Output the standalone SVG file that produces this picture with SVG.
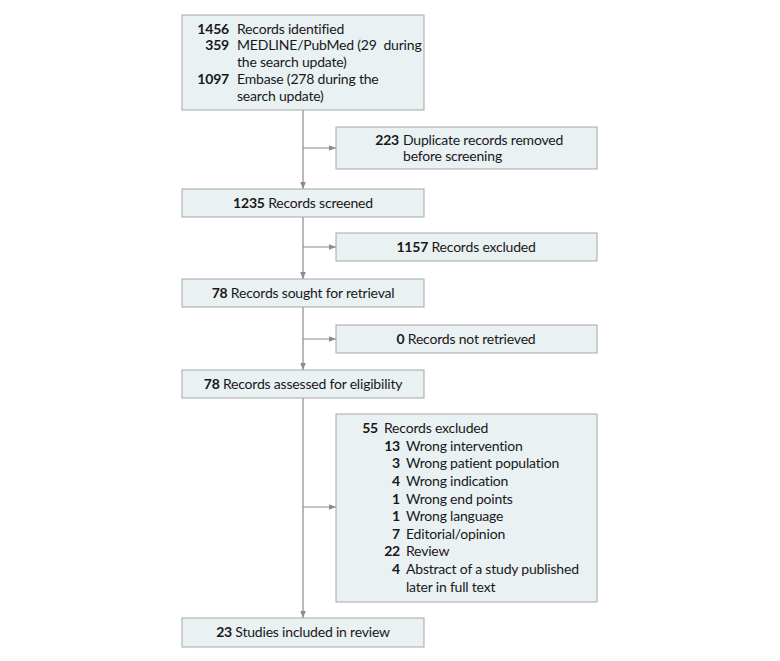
<svg xmlns="http://www.w3.org/2000/svg" width="780" height="661" viewBox="0 0 780 661">
<defs>
<style>
.box{fill:#e9f1f3;stroke:#a3a7a9;stroke-width:1}
.t{font-family:Lato,"Open Sans","Liberation Sans",sans-serif;font-size:14px;fill:#1a1718;letter-spacing:-0.2px}
.b{font-weight:bold}
.c{stroke:#8a8c8e;stroke-width:1.2;fill:none}
</style>
<marker id="ah" viewBox="0 0 10 10" refX="10" refY="5" markerWidth="7" markerHeight="7" orient="auto" markerUnits="userSpaceOnUse">
<path d="M0,1 L10,5 L0,9 z" fill="#8a8c8e"/>
</marker>
</defs>
<rect width="780" height="661" fill="#ffffff"/>
<g id="connectors">
<line class="c" x1="303" y1="110" x2="303" y2="189" marker-end="url(#ah)"/>
<line class="c" x1="303" y1="148" x2="336" y2="148" marker-end="url(#ah)"/>
<line class="c" x1="303" y1="217" x2="303" y2="279" marker-end="url(#ah)"/>
<line class="c" x1="303" y1="247" x2="336" y2="247" marker-end="url(#ah)"/>
<line class="c" x1="303" y1="307" x2="303" y2="370" marker-end="url(#ah)"/>
<line class="c" x1="303" y1="339" x2="336" y2="339" marker-end="url(#ah)"/>
<line class="c" x1="303" y1="398" x2="303" y2="618" marker-end="url(#ah)"/>
<line class="c" x1="303" y1="507" x2="336" y2="507" marker-end="url(#ah)"/>
</g>
<g id="identified">
<rect class="box" x="182" y="15" width="242" height="95"/>
<text class="t b" x="229" y="34" text-anchor="end">1456</text>
<text class="t" x="237" y="34">Records identified</text>
<text class="t b" x="229" y="50" text-anchor="end">359</text>
<text class="t" x="237" y="50">MEDLINE/PubMed (29&#160; during</text>
<text class="t" x="237" y="67">the search update)</text>
<text class="t b" x="229" y="84" text-anchor="end">1097</text>
<text class="t" x="237" y="84">Embase (278 during the</text>
<text class="t" x="237" y="101">search update)</text>
</g>
<g id="duplicates">
<rect class="box" x="336" y="127" width="261" height="42"/>
<text class="t b" x="399" y="145" text-anchor="end">223</text>
<text class="t" x="403" y="145">Duplicate records removed</text>
<text class="t" x="403" y="161">before screening</text>
</g>
<g id="screened">
<rect class="box" x="182" y="189" width="242" height="28"/>
<text class="t" x="303" y="208" text-anchor="middle"><tspan class="b">1235</tspan>  Records screened</text>
</g>
<g id="excluded1">
<rect class="box" x="336" y="233" width="261" height="28"/>
<text class="t" x="466" y="252" text-anchor="middle"><tspan class="b">1157</tspan> Records excluded</text>
</g>
<g id="sought">
<rect class="box" x="182" y="279" width="242" height="28"/>
<text class="t" x="303" y="298" text-anchor="middle"><tspan class="b">78</tspan> Records sought for retrieval</text>
</g>
<g id="notretrieved">
<rect class="box" x="336" y="325" width="261" height="28"/>
<text class="t" x="466" y="344" text-anchor="middle"><tspan class="b">0</tspan> Records not retrieved</text>
</g>
<g id="assessed">
<rect class="box" x="182" y="370" width="242" height="28"/>
<text class="t" x="303" y="389" text-anchor="middle"><tspan class="b">78</tspan> Records assessed for eligibility</text>
</g>
<g id="excluded2">
<rect class="box" x="336" y="414" width="261" height="188"/>
<text class="t b" x="378" y="433" text-anchor="end">55</text>
<text class="t" x="384" y="433">Records excluded</text>
<text class="t b" x="400" y="451" text-anchor="end">13</text>
<text class="t" x="406" y="451">Wrong intervention</text>
<text class="t b" x="400" y="468" text-anchor="end">3</text>
<text class="t" x="406" y="468">Wrong patient population</text>
<text class="t b" x="400" y="486" text-anchor="end">4</text>
<text class="t" x="406" y="486">Wrong indication</text>
<text class="t b" x="400" y="504" text-anchor="end">1</text>
<text class="t" x="406" y="504">Wrong end points</text>
<text class="t b" x="400" y="521" text-anchor="end">1</text>
<text class="t" x="406" y="521">Wrong language</text>
<text class="t b" x="400" y="539" text-anchor="end">7</text>
<text class="t" x="406" y="539">Editorial/opinion</text>
<text class="t b" x="400" y="556" text-anchor="end">22</text>
<text class="t" x="406" y="556">Review</text>
<text class="t b" x="400" y="574" text-anchor="end">4</text>
<text class="t" x="406" y="574">Abstract of a study published</text>
<text class="t" x="406" y="592">later in full text</text>
</g>
<g id="included">
<rect class="box" x="182" y="618" width="242" height="29"/>
<text class="t" x="303" y="637" text-anchor="middle"><tspan class="b">23</tspan> Studies included in review</text>
</g>
</svg>
